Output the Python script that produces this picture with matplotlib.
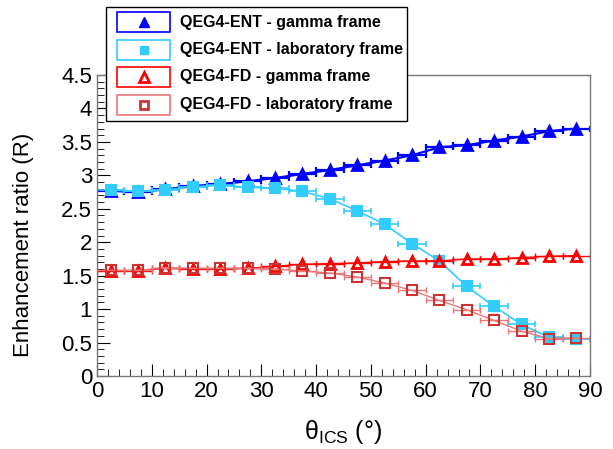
import numpy as np
import matplotlib.pyplot as plt
from matplotlib.patches import Rectangle
from matplotlib.lines import Line2D
from matplotlib.ticker import MultipleLocator

plt.rcParams['font.family'] = ['Liberation Sans', 'DejaVu Sans']
plt.rcParams['mathtext.default'] = 'regular'

# bin centres and half widths (deg)
theta = np.arange(2.5, 90, 5.0)
theta_err = np.full(theta.size, 2.5)

ent_gamma = [2.77, 2.75, 2.79, 2.84, 2.87, 2.91, 2.96, 3.02, 3.08, 3.15, 3.22, 3.30,
             3.42, 3.45, 3.52, 3.58, 3.66, 3.70]
ent_lab = [2.78, 2.76, 2.78, 2.83, 2.85, 2.82, 2.81, 2.76, 2.65, 2.47, 2.27, 1.98,
           1.72, 1.34, 1.04, 0.77, 0.58, 0.55]
fd_gamma = [1.57, 1.57, 1.61, 1.60, 1.60, 1.61, 1.64, 1.67, 1.68, 1.69, 1.71, 1.72,
            1.72, 1.75, 1.75, 1.77, 1.79, 1.80]
fd_lab = [1.58, 1.58, 1.62, 1.61, 1.61, 1.61, 1.60, 1.57, 1.54, 1.48, 1.39, 1.28,
          1.13, 0.99, 0.83, 0.67, 0.56, 0.57]

labels = ['QEG4-ENT - gamma frame', 'QEG4-ENT - laboratory frame',
          'QEG4-FD - gamma frame', 'QEG4-FD - laboratory frame']

c_blue = '#0000ff'
c_cyan = '#33ccff'
c_red = '#ff0000'
c_brick = '#cc3333'
c_pink = '#e87878'

W, H = 613, 449
fig = plt.figure(figsize=(6.13, 4.49), dpi=100)
ax = fig.add_axes([97/W, 1 - 376/H, 493/W, 301/H])

styles = [
    (ent_gamma, c_blue, c_blue, '^', True, 1.6),
    (ent_lab, c_cyan, c_cyan, 's', True, 1.2),
    (fd_gamma, c_red, c_red, '^', False, 1.0),
    (fd_lab, c_brick, c_pink, 's', False, 1.0),
]
for vals, mcol, lcol, mk, filled, lw in styles:
    ax.errorbar(theta, vals, xerr=theta_err, fmt='none', ecolor=lcol, elinewidth=lw,
                capsize=2.5, capthick=lw)
    ax.plot(theta, vals, '-', color=lcol, lw=lw)
    ax.plot(theta, vals, ls='none', marker=mk, ms=7 if mk == '^' else 6.5,
            mfc=mcol if filled else 'none', mec=mcol, mew=2 if mk == '^' else 1.5)

ax.set_xlim(0, 90)
ax.set_ylim(0, 4.5)
ax.xaxis.set_major_locator(MultipleLocator(10))
ax.xaxis.set_minor_locator(MultipleLocator(2))
ax.yaxis.set_major_locator(MultipleLocator(0.5))
ax.yaxis.set_minor_locator(MultipleLocator(0.1))
ax.tick_params(which='both', direction='in', top=False, right=False, labelsize=16)
ax.tick_params(which='major', length=9)
ax.tick_params(which='minor', length=5)
ax.set_yticks(np.arange(0, 4.51, 0.5))
ax.set_yticklabels(['0', '0.5', '1', '1.5', '2', '2.5', '3', '3.5', '4', '4.5'])
for s in ax.spines.values():
    s.set_color('#777777')
    s.set_linewidth(1)

fig.text(343/W, 1 - 432/H, '$θ_{ICS}$ (°)', fontsize=18, ha='center', va='center')
fig.text(24/W, 1 - 245/H, 'Enhancement ratio (R)', fontsize=16, rotation=90,
         ha='center', va='center')

# legend box drawn in figure pixels, ROOT-style
fig.patches.append(Rectangle((106/W, 1 - 121/H), 301/W, 114/H, transform=fig.transFigure,
                             fill=True, fc='white', ec='black', lw=1, zorder=5))
leg_marker = [('^', c_blue, True), ('s', c_cyan, True), ('^', c_red, False), ('s', c_brick, False)]
box_edge = [c_blue, c_cyan, c_red, c_pink]
for i, (lab, (mk, col, filled)) in enumerate(zip(labels, leg_marker)):
    yc = 22 + i * 27.5
    fig.patches.append(Rectangle((117/W, 1 - (yc + 10)/H), 53/W, 20/H, transform=fig.transFigure,
                                 fill=False, ec=box_edge[i], lw=1.2, zorder=6))
    fig.lines.append(Line2D([143.5/W], [1 - yc/H], transform=fig.transFigure, marker=mk,
                            ms=7 if mk == '^' else 5.5, mfc=col if filled else 'none',
                            mec=col, mew=2 if not filled else 1, ls='none', zorder=7))
    fig.text(180/W, 1 - yc/H, lab, fontsize=11.5, fontweight='bold', va='center', ha='left',
             zorder=7)

fig.savefig('out.png', dpi=100)
